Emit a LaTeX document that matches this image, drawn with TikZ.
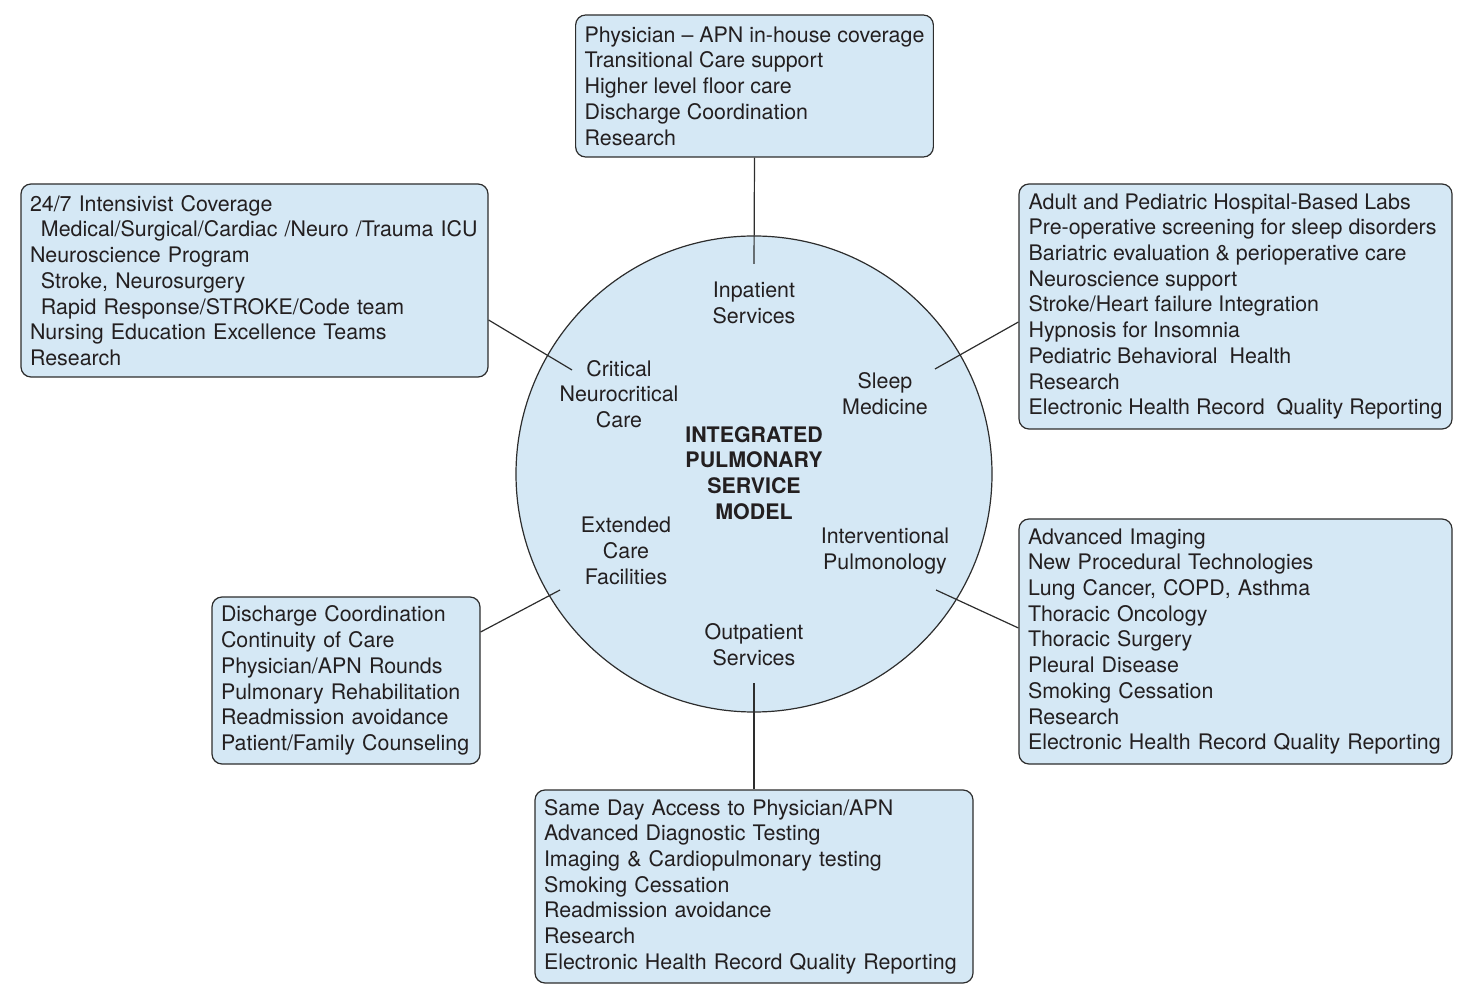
\documentclass[tikz,border=0pt]{standalone}
\usepackage{fontspec}
\setmainfont{TeX Gyre Heros}
\usetikzlibrary{positioning}
\definecolor{ipsfill}{RGB}{213,232,245}
\definecolor{ipsline}{RGB}{45,45,45}
\definecolor{ipstext}{RGB}{35,31,32}
\newcommand{\svcfont}{\fontsize{10.7pt}{12.85pt}\selectfont}
\newcommand{\ind}{\hspace*{5.5pt}}
\tikzset{
  svcbox/.style={draw=ipsline, fill=ipsfill, rounded corners=5pt, line width=0.6pt,
    align=left, inner xsep=4.5pt, inner ysep=4pt, text=ipstext, font=\svcfont},
  svclabel/.style={align=center, text=ipstext, font=\svcfont, inner sep=0pt},
  link/.style={draw=ipsline, line width=0.6pt}
}

\begin{document}
\begin{tikzpicture}[x=0.5pt, y=-0.5pt]
\useasboundingbox (0,0) rectangle (1476,1004);
%hub
\node[circle, draw=ipsline, fill=ipsfill, line width=0.6pt, minimum size=238pt, inner sep=0pt] (hub) at (754,474) {};
%boxes
\node[svcbox, minimum width=178.5pt, minimum height=71pt] (inpatbox) at (754.5,86)
  {Physician -- APN in-house coverage\\Transitional Care support\\Higher level floor care\\Discharge Coordination\\Research};
\node[svcbox, text width=224.5pt, minimum height=96.5pt] (critbox) at (254.5,280.5)
  {24/7 Intensivist Coverage\\\ind Medical/Surgical/Cardiac /Neuro /Trauma ICU\\Neuroscience Program\\\ind Stroke, Neurosurgery\\\ind Rapid Response/STROKE/Code team\\Nursing Education Excellence Teams\\Research};
\node[svcbox, minimum width=216.5pt, minimum height=122.5pt] (sleepbox) at (1235.5,306.5)
  {Adult and Pediatric Hospital-Based Labs\\Pre-operative screening for sleep disorders\\Bariatric evaluation \& perioperative care\\Neuroscience support\\Stroke/Heart failure Integration\\Hypnosis for Insomnia\\Pediatric Behavioral\ \ Health\\Research\\Electronic Health Record\ \ Quality Reporting};
\node[svcbox, text width=207.5pt, minimum height=122.5pt] (intervbox) at (1235.5,641.5)
  {Advanced Imaging\\New Procedural Technologies\\Lung Cancer, COPD, Asthma\\Thoracic Oncology\\Thoracic Surgery\\Pleural Disease\\Smoking Cessation\\Research\\Electronic Health Record Quality Reporting};
\node[svcbox, text width=125pt, minimum height=83.5pt] (extbox) at (346,680.5)
  {Discharge Coordination\\Continuity of Care\\Physician/APN Rounds\\Pulmonary Rehabilitation\\Readmission avoidance\\Patient/Family Counseling};
\node[svcbox, text width=210pt, minimum height=96.5pt] (outpbox) at (754,886.5)
  {Same Day Access to Physician/APN\\Advanced Diagnostic Testing\\Imaging \& Cardiopulmonary testing\\Smoking Cessation\\Readmission avoidance\\Research\\Electronic Health Record Quality Reporting};
%labels
\node[svclabel] (inpat) at (754,303) {Inpatient\\Services};
\node[svclabel] (crit) at (619,394) {Critical\\Neurocritical\\Care};
\node[svclabel] (sleep) at (885,394) {Sleep\\Medicine};
\node[svclabel, font=\svcfont\bfseries] (hubtitle) at (754,473) {INTEGRATED\\PULMONARY\\SERVICE\\MODEL};
\node[svclabel] (ext) at (626,551) {Extended\\Care\\Facilities};
\node[svclabel] (interv) at (885,551) {Interventional\\Pulmonology};
\node[svclabel] (outp) at (754,645) {Outpatient\\Services};
%connectors
\coordinate (inpatEnd) at (754,264);
\coordinate (critEnd) at (572,370);
\coordinate (sleepEnd) at (935,369);
\coordinate (extEnd) at (560,590);
\coordinate (intervEnd) at (936,590);
\coordinate (outpEnd) at (754,683);
\draw[link] (inpatbox.south) -- (inpatEnd);
\draw[link] (critbox.east |- 0,320) -- (critEnd);
\draw[link] (sleepbox.west |- 0,322) -- (sleepEnd);
\draw[link] (extbox.east |- 0,632) -- (extEnd);
\draw[link] (intervbox.west |- 0,628) -- (intervEnd);
\draw[link] (outpbox.north) -- (outpEnd);
\end{tikzpicture}
\end{document}
